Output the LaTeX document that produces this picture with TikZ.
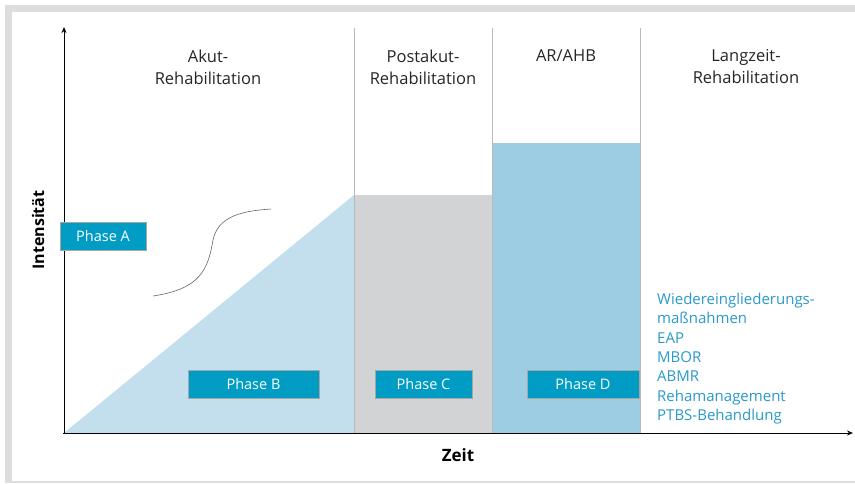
\documentclass[tikz,border=0pt]{standalone}
\usepackage{fontspec}
\setmainfont{Open Sans}
\usetikzlibrary{arrows.meta}
\definecolor{frame}{HTML}{DCDDDE}
\definecolor{tri}{HTML}{C3DFEE}
\definecolor{grayc}{HTML}{D1D3D5}
\definecolor{blued}{HTML}{9DCDE3}
\definecolor{phase}{HTML}{009CC4}
\definecolor{listc}{HTML}{2A9AC9}
\definecolor{sep}{HTML}{B8B9BB}
\tikzset{
  phasebox/.style={draw=gray!70, fill=phase, text=white, font=\fontsize{14.5}{16}\selectfont, minimum height=28pt, inner sep=0pt, line width=0.8pt},
  head/.style={align=center, font=\fontsize{16.5}{22}\selectfont, text=black!85},
  axis/.style={line width=1pt, -{Stealth[length=6pt,width=5pt]}},
}
\begin{document}
\begin{tikzpicture}[x=1pt,y=-1pt]
\useasboundingbox (0,0) rectangle (855,483);
\fill[frame] (5,5) rectangle (855,483);
\fill[white] (12,12) rectangle (855,481);
% areas
\fill[tri] (64,433) -- (354,195) -- (354,433) -- cycle;
\fill[grayc] (354,195) rectangle (492,433);
\fill[blued] (492,143) rectangle (640,433);
% separators
\coordinate (s1t) at (354,28); \coordinate (s1b) at (354,433);
\coordinate (s2t) at (492,28); \coordinate (s2b) at (492,433);
\coordinate (s3t) at (640,28); \coordinate (s3b) at (640,433);
\draw[sep, line width=0.8pt] (s1t) -- (s1b) (s2t) -- (s2b) (s3t) -- (s3b);
% axes
\coordinate (o) at (64,433);
\coordinate (ytop) at (64,27);
\coordinate (xend) at (853,433);
\draw[axis] (64,434) -- (ytop);
\draw[axis] (63,433) -- (xend);
% headings
\node[head] (h1) at (208,67) {Akut-\\Rehabilitation};
\node[head] (h2) at (423,67) {Postakut-\\Rehabilitation};
\node[head] (h3) at (566,56) {AR/AHB};
\node[head] (h4) at (746,67) {Langzeit-\\Rehabilitation};
% axis labels
\node[font=\fontsize{16}{18}\selectfont\bfseries, rotate=90] (yl) at (38,230) {Intensität};
\node[font=\fontsize{17}{18}\selectfont\bfseries] (xl) at (458,455) {Zeit};
% curve
\draw[gray!80!black, line width=0.6pt] (153,296) .. controls (200,289) and (208,270) .. (213,240) .. controls (218,217) and (240,211) .. (271,209);
% phase boxes
\node[phasebox, minimum width=86pt] (pa) at (103,236) {Phase A};
\node[phasebox, minimum width=131pt] (pb) at (253.5,384) {Phase B};
\node[phasebox, minimum width=97pt] (pc) at (423.5,384) {Phase C};
\node[phasebox, minimum width=112pt] (pd) at (583,384) {Phase D};
% list
\node[anchor=north west, align=left, text=listc, font=\fontsize{15}{19.3}\selectfont, inner sep=0pt] (lst) at (657,293) {Wiedereingliederungs-\\maßnahmen\\EAP\\MBOR\\ABMR\\Rehamanagement\\PTBS-Behandlung};
\end{tikzpicture}
\end{document}
